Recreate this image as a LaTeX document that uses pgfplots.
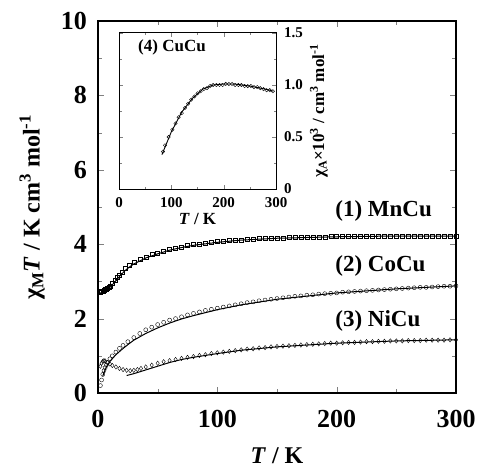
\documentclass[border=0pt]{standalone}
\usepackage{pgfplots}
\pgfplotsset{compat=1.18}
\usepackage{fontspec}
\setmainfont{Liberation Serif}

\begin{document}
\begin{tikzpicture}
% main panel
\begin{axis}[
    at={(0pt,0pt)}, anchor=south west,
    scale only axis,
    width=358pt, height=372pt,
    xmin=0, xmax=300, ymin=0, ymax=10,
    xtick={0,100,200,300}, ytick={0,2,4,6,8,10},
    minor x tick num=1, minor y tick num=1,
    tick align=inside,
    major tick length=6pt, minor tick length=4pt,
    axis line style={line width=1.3pt},
    /pgf/number format/assume math mode=true,
    tick label style={font=\fontsize{26}{26}\selectfont\bfseries, inner sep=0pt},
    xticklabel style={anchor=north, yshift=-17pt},
    yticklabel style={anchor=east, xshift=-11pt},
    xlabel={\textit{T} / K},
    ylabel={χ\textsubscript{M}\textit{T} / K cm\textsuperscript{3} mol\textsuperscript{-1}},
    label style={font=\fontsize{24}{24}\selectfont\bfseries, inner sep=0pt},
    xlabel style={at={(axis description cs:0.5,-0.146)}, anchor=north},
    ylabel style={at={(axis description cs:-0.148,0.5)}, anchor=south},
]
% (1) MnCu
\addplot[black, only marks, mark=square, mark size=2pt] coordinates {
(2,2.72) (3,2.74) (4,2.75) (5,2.76) (6,2.78) (7,2.80) (8,2.82) (9,2.85) (10,2.88)
(12,2.95) (14,3.03) (16,3.10) (18,3.18) (20,3.25) (23,3.36) (26,3.44) (30,3.51)
(35,3.59) (40,3.66) (45,3.72) (50,3.77) (55,3.82) (60,3.86) (65,3.90) (70,3.93)
(75,3.96) (80,3.99) (85,4.01) (90,4.03) (95,4.05) (100,4.07) (105,4.09) (110,4.10)
(115,4.11) (120,4.12) (125,4.13) (130,4.14) (135,4.15) (140,4.15) (145,4.16)
(150,4.17) (155,4.17) (160,4.18) (165,4.18) (170,4.19) (175,4.19) (180,4.20)
(185,4.20) (190,4.20) (195,4.21) (200,4.21) (205,4.21) (210,4.21) (215,4.22)
(220,4.22) (225,4.22) (230,4.22) (235,4.22) (240,4.22) (245,4.22) (250,4.22)
(255,4.22) (260,4.22) (265,4.22) (270,4.22) (275,4.22) (280,4.22) (285,4.22)
(290,4.22) (295,4.22) (300,4.22)
};
\addplot[black, line width=1pt] coordinates {
(2,2.70) (5,2.72) (8,2.78) (10,2.84) (14,2.98) (18,3.13) (22,3.27) (26,3.38)
(30,3.47) (40,3.63) (50,3.74) (60,3.84) (70,3.91) (80,3.97) (100,4.05) (120,4.11)
(150,4.16) (200,4.20) (250,4.22) (300,4.22)
};
% (2) CoCu
\addplot[black, only marks, mark=o, mark size=2pt] coordinates {
(2,0.20) (3,0.35) (4,0.50) (5,0.60) (6,0.68) (7,0.75) (8,0.82) (10,0.92)
(12,1.00) (15,1.10) (18,1.20) (21,1.28) (25,1.38) (30,1.49) (35,1.60) (40,1.70)
(45,1.77) (50,1.84) (55,1.90) (60,1.96) (65,2.00) (70,2.05) (75,2.10) (80,2.14)
(85,2.18) (90,2.22) (95,2.25) (100,2.28) (105,2.31) (110,2.34) (115,2.37)
(120,2.40) (125,2.43) (130,2.45) (135,2.48) (140,2.50) (145,2.52) (150,2.54)
(155,2.56) (160,2.58) (165,2.60) (170,2.61) (175,2.63) (180,2.64) (185,2.66)
(190,2.67) (195,2.68) (200,2.69) (205,2.71) (210,2.72) (215,2.73) (220,2.74)
(225,2.75) (230,2.76) (235,2.77) (240,2.78) (245,2.79) (250,2.80) (255,2.81)
(260,2.82) (265,2.83) (270,2.84) (275,2.84) (280,2.85) (285,2.86) (290,2.87)
(295,2.87) (300,2.88)
};
\addplot[black, line width=1pt] coordinates {
(4,0.45) (5,0.55) (7,0.70) (10,0.85) (15,1.03) (20,1.17) (25,1.30) (30,1.42)
(40,1.60) (50,1.75) (60,1.88) (70,1.99) (80,2.08) (100,2.24) (120,2.37)
(150,2.52) (200,2.69) (250,2.80) (300,2.88)
};
% (3) NiCu
\addplot[black, only marks, mark=diamond, mark size=2.2pt] coordinates {
(2,0.72) (3,0.80) (4,0.85) (5,0.87) (6,0.86) (8,0.82) (10,0.78) (12,0.74)
(15,0.70) (18,0.66) (21,0.63) (24,0.61) (27,0.60) (30,0.61) (33,0.63) (36,0.66)
(40,0.70) (45,0.75) (50,0.80) (55,0.84) (60,0.87) (65,0.90) (70,0.93) (75,0.96)
(80,0.98) (85,1.01) (90,1.03) (95,1.06) (100,1.08) (105,1.10) (110,1.12)
(115,1.14) (120,1.16) (125,1.18) (130,1.19) (135,1.21) (140,1.22) (145,1.24)
(150,1.25) (155,1.26) (160,1.27) (165,1.28) (170,1.29) (175,1.30) (180,1.31)
(185,1.32) (190,1.33) (195,1.34) (200,1.34) (205,1.35) (210,1.36) (215,1.36)
(220,1.37) (225,1.38) (230,1.38) (235,1.39) (240,1.39) (245,1.40) (250,1.40)
(255,1.40) (260,1.41) (265,1.41) (270,1.41) (275,1.42) (280,1.42) (285,1.42)
(290,1.42) (295,1.43) (300,1.43)
};
\addplot[black, line width=1pt] coordinates {
(24,0.47) (30,0.52) (40,0.62) (50,0.72) (60,0.82) (70,0.90) (80,0.96)
(100,1.06) (120,1.15) (150,1.24) (200,1.34) (250,1.40) (300,1.43)
};
\node[anchor=west, font=\fontsize{23}{23}\selectfont\bfseries] at (axis cs:196,4.89) {(1) MnCu};
\node[anchor=west, font=\fontsize{23}{23}\selectfont\bfseries] at (axis cs:196,3.41) {(2) CoCu};
\node[anchor=west, font=\fontsize{23}{23}\selectfont\bfseries] at (axis cs:196,1.94) {(3) NiCu};
\end{axis}

% inset (4) CuCu
\begin{axis}[
    at={(21pt,204pt)}, anchor=south west,
    scale only axis,
    width=157pt, height=156pt,
    xmin=0, xmax=300, ymin=0, ymax=1.5,
    xtick={0,100,200,300}, ytick={0,0.5,1.0,1.5},
    yticklabels={0,0.5,1.0,1.5},
    minor x tick num=1, minor y tick num=1,
    tick align=inside,
    major tick length=4pt, minor tick length=2.5pt,
    axis line style={line width=1pt},
    yticklabel pos=right,
    /pgf/number format/assume math mode=true,
    tick label style={font=\fontsize{15}{15}\selectfont\bfseries, inner sep=0pt},
    xticklabel style={anchor=north, yshift=-8pt},
    yticklabel style={anchor=west, xshift=8pt},
    xlabel={\textit{T} / K},
    ylabel={χ\textsubscript{A}×10\textsuperscript{3} / cm\textsuperscript{3} mol\textsuperscript{-1}},
    label style={font=\fontsize{17}{17}\selectfont\bfseries, inner sep=0pt},
    xlabel style={at={(axis description cs:0.5,-0.154)}, anchor=north},
    ylabel style={at={(axis description cs:1.215,0.5)}, anchor=north, rotate=0},
]
\addplot[black, only marks, mark=o, mark size=1.7pt] coordinates {
(84,0.36) (88,0.42) (95,0.50) (102,0.57) (108,0.63) (114,0.69) (120,0.73)
(126,0.78) (132,0.82) (138,0.86) (144,0.89) (150,0.92) (156,0.94) (162,0.96)
(168,0.97) (174,0.99) (180,1.00) (186,1.00) (192,1.00) (198,1.00) (204,1.01)
(210,1.01) (216,1.01) (222,1.00) (228,1.00) (234,1.00) (240,0.99) (246,0.99)
(252,0.99) (258,0.98) (264,0.98) (270,0.97) (276,0.96) (282,0.95) (288,0.95)
(294,0.94)
};
\addplot[black, line width=0.9pt] coordinates {
(82,0.33) (100,0.55) (120,0.74) (140,0.87) (160,0.96) (180,1.00) (200,1.01)
(220,1.01) (250,0.99) (280,0.96) (295,0.94)
};
\node[anchor=west, font=\fontsize{17}{17}\selectfont\bfseries] at (axis cs:30,1.36) {(4) CuCu};
\end{axis}
\pgfresetboundingbox
\path[use as bounding box] (-98pt,-76pt) rectangle (380pt,393pt);
\end{tikzpicture}
\end{document}
